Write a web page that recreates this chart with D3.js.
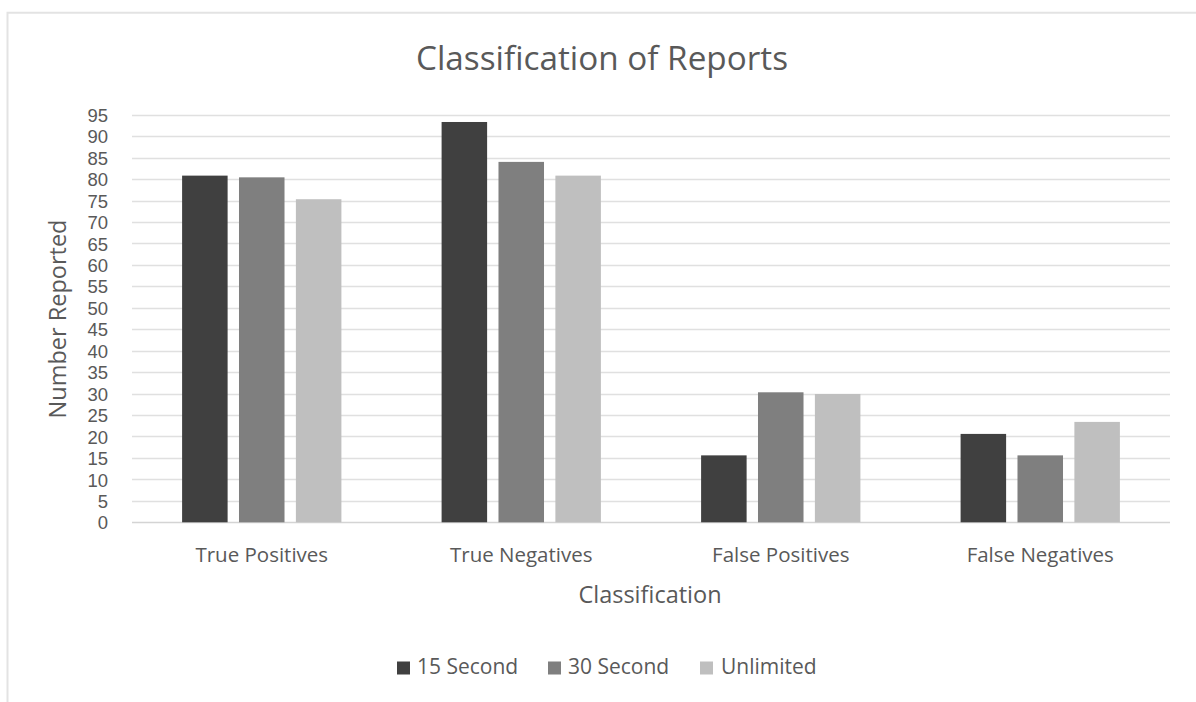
<!DOCTYPE html>
<html>
<head>
<meta charset="utf-8">
<script src="https://cdn.jsdelivr.net/npm/d3@7/dist/d3.min.js"></script>
<style>
  html, body { margin: 0; padding: 0; background: #fff; }
  svg { display: block; }
  text { font-family: "Open Sans", "Noto Sans", sans-serif; fill: #595959; }
</style>
</head>
<body>
<svg id="chart" width="1196" height="702"></svg>
<script>
// Report classification counts per time limit
const categories = ["True Positives", "True Negatives", "False Positives", "False Negatives"];
const seriesNames = ["15 Second", "30 Second", "Unlimited"];
const values15 = [80.8, 93.3, 15.6, 20.6];
const values30 = [80.4, 84.0, 30.3, 15.6];
const valuesUnlimited = [75.3, 80.8, 29.9, 23.4];
const yTicks = [0, 5, 10, 15, 20, 25, 30, 35, 40, 45, 50, 55, 60, 65, 70, 75, 80, 85, 90, 95];
const seriesColors = ["#404040", "#7f7f7f", "#bfbfbf"];

const seriesValues = [values15, values30, valuesUnlimited];
const rows = categories.map((c, i) => ({
  category: c,
  items: seriesNames.map((s, j) => ({ series: s, value: seriesValues[j][i] }))
}));

const svg = d3.select("#chart");

// Chart frame
svg.append("path")
  .attr("d", "M7.5,1196 L7.5,12.8 L1196,12.8")
  .attr("fill", "none")
  .attr("stroke", "#e3e3e3")
  .attr("stroke-width", 2);

const plot = { left: 132, right: 1170, top: 114.7, bottom: 522.3 };

const x = d3.scaleBand().domain(categories).range([plot.left, plot.right]).padding(0);
const y = d3.scaleLinear().domain([0, 95]).range([plot.bottom, plot.top]);

const groupWidth = 159.3;
const x1 = d3.scaleBand().domain(seriesNames).range([0, groupWidth]).paddingInner(0.2).paddingOuter(0);
const color = d3.scaleOrdinal().domain(seriesNames).range(seriesColors);

// Gridlines
const grid = svg.append("g").attr("class", "grid");
grid.selectAll("line")
  .data(yTicks)
  .join("line")
  .attr("x1", plot.left)
  .attr("x2", plot.right)
  .attr("y1", d => Math.round(y(d)) + 0.5)
  .attr("y2", d => Math.round(y(d)) + 0.5)
  .attr("stroke", d => d === 0 ? "#d4d4d4" : "#e0e0e0")
  .attr("stroke-width", 1.6);

// Y axis labels
const yAxis = d3.axisLeft(y).tickValues(yTicks).tickSize(0).tickPadding(0);
const yG = svg.append("g").attr("transform", "translate(108,0)").call(yAxis);
yG.select(".domain").remove();
yG.selectAll("text")
  .attr("font-size", 18.5)
  .attr("fill", "#595959")
  .attr("dy", "0.36em")
  .style("font-family", "'Liberation Sans', Arial, sans-serif");

// Bars
const groups = svg.append("g").selectAll("g")
  .data(rows)
  .join("g")
  .attr("transform", d => `translate(${x(d.category) + (x.bandwidth() - groupWidth) / 2},0)`);

groups.selectAll("rect")
  .data(d => d.items)
  .join("rect")
  .attr("x", d => x1(d.series))
  .attr("width", x1.bandwidth())
  .attr("y", d => y(d.value))
  .attr("height", d => y(0) - y(d.value))
  .attr("fill", d => color(d.series));

// X axis labels
const xAxis = d3.axisBottom(x).tickSize(0).tickPadding(0);
const xG = svg.append("g").attr("transform", `translate(0,${plot.bottom})`).call(xAxis);
xG.select(".domain").remove();
xG.selectAll("text")
  .attr("font-size", 20.5)
  .attr("fill", "#595959")
  .attr("y", 39.5)
  .attr("dy", 0)
  .style("font-family", "'Open Sans', sans-serif");

// Title
svg.append("text")
  .attr("x", 602)
  .attr("y", 70)
  .attr("text-anchor", "middle")
  .attr("font-size", 33)
  .attr("textLength", 372)
  .attr("lengthAdjust", "spacingAndGlyphs")
  .text("Classification of Reports");

// Axis titles
svg.append("text")
  .attr("transform", "translate(66,319) rotate(-90)")
  .attr("text-anchor", "middle")
  .attr("font-size", 23.5)
  .text("Number Reported");

svg.append("text")
  .attr("x", 650)
  .attr("y", 603)
  .attr("text-anchor", "middle")
  .attr("font-size", 23.5)
  .text("Classification");

// Legend
const legendX = [397, 548, 700];
const legend = svg.append("g").selectAll("g")
  .data(seriesNames)
  .join("g")
  .attr("transform", (d, i) => `translate(${legendX[i]},0)`);
legend.append("rect")
  .attr("x", 0)
  .attr("y", 661.5)
  .attr("width", 13)
  .attr("height", 13)
  .attr("fill", d => color(d));
legend.append("text")
  .attr("x", (d, i) => i === 2 ? 21 : 20)
  .attr("y", 674)
  .attr("font-size", 21)
  .text(d => d);
</script>
</body>
</html>
